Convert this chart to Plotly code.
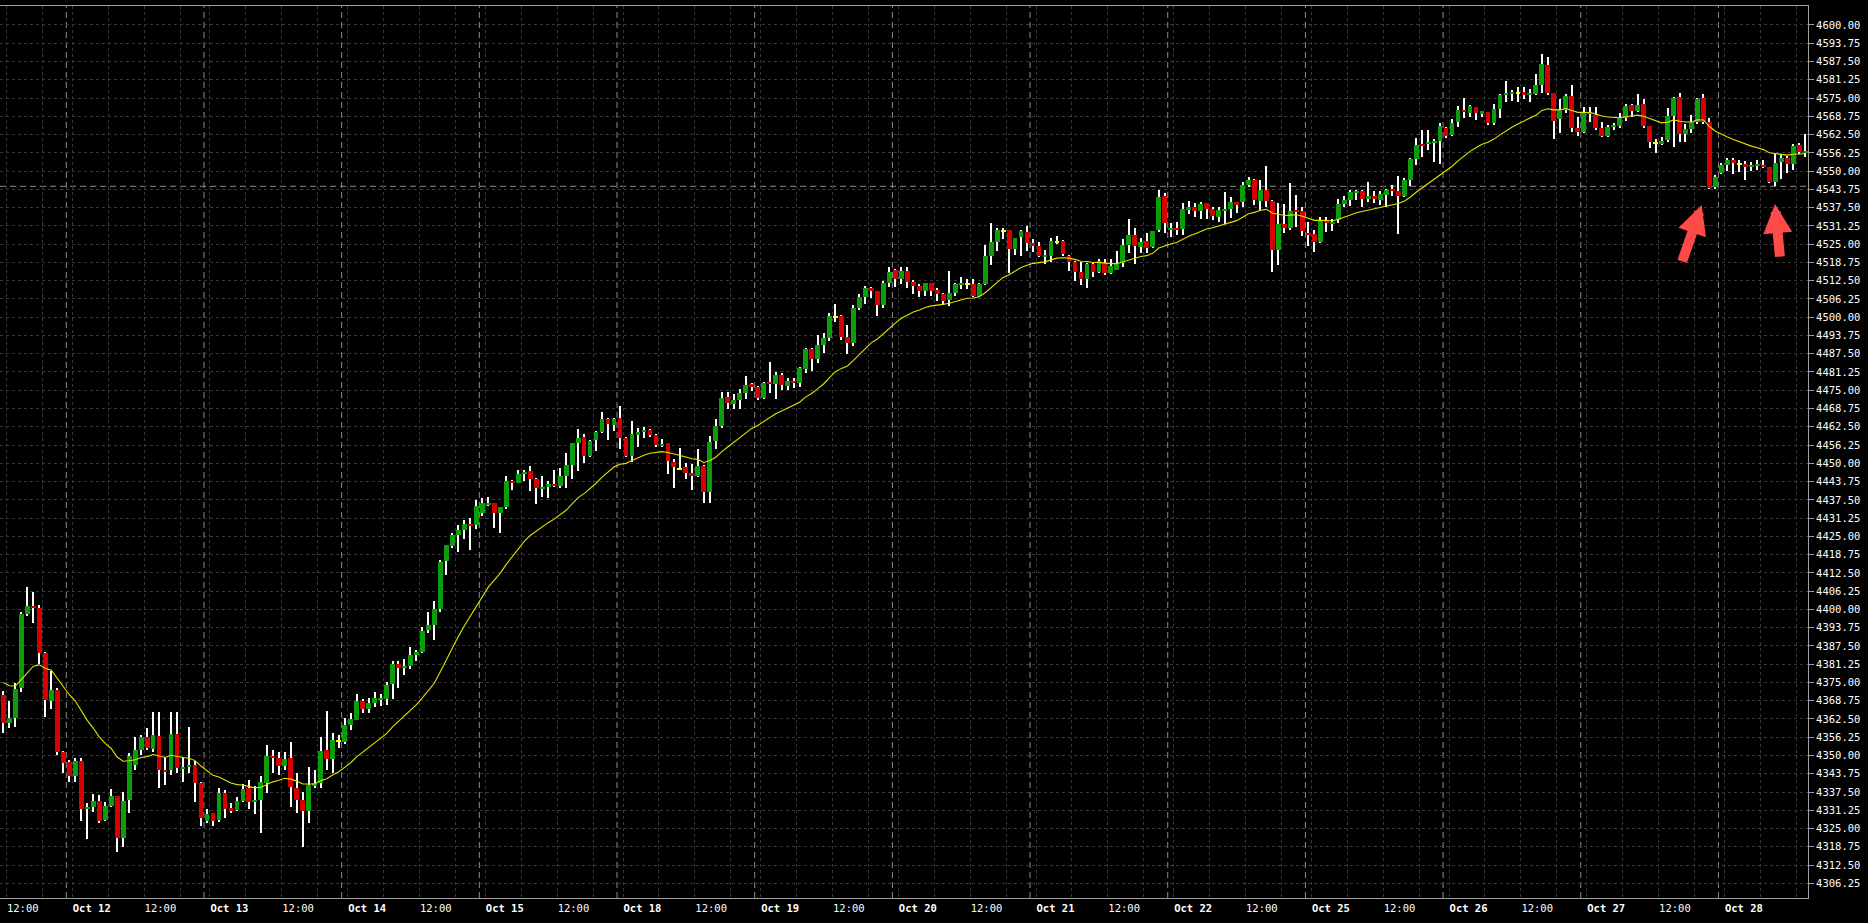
import plotly.graph_objects as go

# ---------------- data (hourly candles) ----------------
opens = [4370.7, 4361.0, 4362.9, 4373.2, 4398.4, 4401.1, 4400.6, 4385.2, 4368.8, 4372.4,
         4351.1, 4347.9, 4343.1, 4348.1, 4331.8, 4332.5, 4334.4, 4327.8, 4332.8, 4336.1,
         4321.9, 4334.8, 4346.7, 4351.9, 4356.2, 4352.2, 4356.7, 4345.0, 4345.0, 4357.4,
         4345.5, 4346.2, 4346.6, 4340.5, 4327.7, 4330.2, 4327.9, 4337.3, 4332.2, 4331.4,
         4334.5, 4338.8, 4334.2, 4334.9, 4340.7, 4349.8, 4349.0, 4346.5, 4349.0, 4339.0,
         4334.8, 4331.1, 4340.1, 4340.5, 4351.9, 4348.7, 4355.1, 4354.7, 4360.4, 4362.1,
         4368.6, 4365.8, 4367.8, 4369.4, 4369.4, 4374.3, 4381.3, 4379.8, 4380.5, 4384.5,
         4385.5, 4393.0, 4394.7, 4400.0, 4416.5, 4421.7, 4425.5, 4427.2, 4429.2, 4428.9,
         4433.1, 4436.1, 4436.3, 4433.1, 4434.9, 4444.0, 4443.4, 4446.4, 4447.3, 4444.6,
         4441.4, 4442.0, 4442.9, 4442.3, 4445.7, 4449.4, 4456.8, 4459.0, 4452.5, 4458.0,
         4460.7, 4465.2, 4463.2, 4465.5, 4458.7, 4452.6, 4459.8, 4460.8, 4461.4, 4459.7,
         4455.9, 4456.8, 4450.5, 4448.1, 4448.6, 4446.8, 4445.8, 4449.1, 4440.3, 4457.6,
         4462.8, 4472.6, 4470.4, 4471.7, 4473.9, 4477.2, 4476.0, 4472.5, 4477.8, 4477.2,
         4480.2, 4476.6, 4478.2, 4477.6, 4482.3, 4489.1, 4485.7, 4490.5, 4493.0, 4500.2,
         4500.4, 4493.3, 4491.1, 4503.3, 4507.0, 4510.1, 4508.8, 4504.2, 4511.8, 4516.2,
         4513.0, 4515.8, 4512.2, 4510.7, 4509.1, 4511.6, 4509.3, 4508.0, 4505.9, 4508.2,
         4511.2, 4511.4, 4511.4, 4507.3, 4511.4, 4521.0, 4525.9, 4529.6, 4529.9, 4523.2,
         4527.6, 4529.3, 4525.3, 4524.4, 4520.7, 4521.1, 4525.9, 4526.1, 4521.1, 4519.0,
         4515.6, 4513.0, 4518.2, 4515.6, 4518.7, 4515.2, 4516.2, 4518.4, 4524.7, 4528.1,
         4524.1, 4526.1, 4524.1, 4529.9, 4541.5, 4529.9, 4530.4, 4530.2, 4537.0, 4537.6,
         4536.4, 4539.0, 4537.0, 4534.4, 4536.5, 4537.0, 4539.3, 4539.3, 4545.3, 4547.0,
         4539.9, 4543.5, 4539.8, 4523.0, 4531.9, 4530.6, 4536.6, 4536.4, 4528.9, 4528.4,
         4525.6, 4533.0, 4532.1, 4533.3, 4538.7, 4540.1, 4542.6, 4543.2, 4540.5, 4541.6,
         4540.1, 4541.9, 4543.9, 4543.2, 4541.6, 4546.8, 4554.0, 4559.2, 4559.3, 4559.9,
         4560.3, 4564.9, 4562.4, 4566.7, 4570.9, 4570.0, 4571.8, 4570.0, 4570.1, 4566.6,
         4571.3, 4576.3, 4576.4, 4576.8, 4577.1, 4576.1, 4576.4, 4579.5, 4586.2, 4576.6,
         4567.7, 4570.9, 4575.7, 4564.9, 4563.5, 4569.8, 4569.2, 4564.9, 4562.0, 4565.2,
         4565.5, 4568.1, 4572.6, 4570.6, 4573.0, 4565.4, 4559.7, 4559.7, 4560.6, 4568.9,
         4575.2, 4562.6, 4564.3, 4566.9, 4575.1, 4566.9, 4544.4, 4549.2, 4552.1, 4553.8,
         4552.4, 4552.4, 4551.5, 4551.8, 4552.1, 4551.3, 4546.4, 4553.2, 4554.4, 4552.4,
         4558.9, 4556.3]

highs = [4372.2, 4368.6, 4374.9, 4399.0, 4407.8, 4406.0, 4401.5, 4385.5, 4379.0, 4373.0,
         4351.5, 4348.5, 4349.0, 4349.0, 4333.6, 4336.7, 4336.5, 4334.2, 4338.7, 4336.3,
         4337.6, 4350.7, 4356.4, 4357.0, 4359.3, 4364.8, 4364.8, 4349.6, 4364.8, 4364.8,
         4349.6, 4359.6, 4348.2, 4340.8, 4331.6, 4330.4, 4339.0, 4338.2, 4333.6, 4335.9,
         4340.1, 4341.7, 4339.5, 4343.1, 4353.6, 4351.9, 4351.2, 4351.2, 4354.7, 4343.9,
         4337.6, 4346.2, 4345.0, 4356.4, 4365.3, 4357.6, 4357.1, 4362.7, 4364.4, 4371.2,
         4369.5, 4369.7, 4371.8, 4371.2, 4375.2, 4382.4, 4382.4, 4383.0, 4387.3, 4386.0,
         4394.1, 4399.2, 4402.9, 4416.9, 4422.2, 4426.0, 4428.9, 4430.6, 4431.2, 4437.5,
         4438.0, 4438.6, 4436.5, 4435.2, 4445.7, 4444.2, 4447.7, 4447.7, 4449.1, 4444.8,
         4445.7, 4444.0, 4447.7, 4448.5, 4453.6, 4457.0, 4461.6, 4459.9, 4458.0, 4461.0,
         4467.6, 4465.4, 4465.4, 4469.6, 4458.9, 4464.5, 4462.2, 4462.4, 4461.6, 4459.9,
         4458.2, 4457.0, 4451.4, 4455.2, 4450.0, 4449.6, 4454.8, 4449.3, 4459.4, 4465.2,
         4474.4, 4474.5, 4473.7, 4475.3, 4479.9, 4477.4, 4476.3, 4477.9, 4484.5, 4481.4,
         4481.0, 4479.1, 4479.1, 4483.1, 4489.6, 4489.3, 4493.9, 4494.7, 4501.3, 4504.4,
         4500.7, 4497.4, 4504.2, 4508.0, 4510.7, 4510.4, 4509.1, 4512.4, 4517.3, 4516.4,
         4517.3, 4517.3, 4512.7, 4511.2, 4511.8, 4511.8, 4509.9, 4508.2, 4515.8, 4511.8,
         4513.6, 4513.1, 4513.0, 4511.8, 4524.7, 4532.4, 4530.4, 4530.4, 4530.0, 4527.2,
         4529.9, 4531.2, 4526.7, 4525.9, 4523.0, 4527.0, 4527.8, 4526.3, 4521.3, 4519.2,
         4519.0, 4518.7, 4518.4, 4519.8, 4519.8, 4519.8, 4522.8, 4526.8, 4533.6, 4530.4,
         4527.0, 4528.9, 4529.6, 4543.5, 4542.4, 4532.1, 4532.7, 4539.0, 4539.8, 4539.0,
         4539.5, 4539.1, 4537.8, 4537.8, 4542.7, 4541.3, 4539.4, 4546.4, 4548.1, 4547.2,
         4547.0, 4551.8, 4540.0, 4539.0, 4538.7, 4545.8, 4541.8, 4537.8, 4532.7, 4529.9,
         4534.2, 4534.4, 4533.5, 4540.3, 4541.6, 4543.5, 4543.5, 4543.4, 4546.2, 4543.3,
         4543.3, 4544.0, 4545.3, 4548.3, 4547.8, 4554.6, 4561.2, 4564.1, 4564.1, 4561.0,
         4566.4, 4565.1, 4567.7, 4572.3, 4574.9, 4572.5, 4572.0, 4570.5, 4570.3, 4573.0,
         4576.3, 4580.8, 4577.8, 4578.7, 4578.7, 4578.0, 4583.2, 4590.1, 4589.0, 4576.8,
         4574.6, 4576.4, 4579.5, 4568.6, 4572.1, 4572.1, 4572.1, 4566.9, 4565.8, 4566.6,
         4570.0, 4573.0, 4573.0, 4576.3, 4574.7, 4565.6, 4560.9, 4561.8, 4571.5, 4575.5,
         4576.6, 4566.1, 4569.2, 4575.1, 4576.4, 4568.1, 4548.7, 4552.7, 4554.4, 4554.4,
         4553.8, 4553.6, 4553.2, 4553.8, 4553.8, 4551.5, 4555.8, 4555.5, 4555.0, 4559.2,
         4559.5, 4562.7]

lows = [4357.6, 4359.3, 4359.9, 4371.8, 4397.7, 4395.4, 4381.3, 4363.3, 4366.0, 4350.0,
        4343.9, 4341.0, 4341.0, 4327.7, 4321.3, 4330.8, 4326.8, 4327.6, 4332.5, 4317.1,
        4318.6, 4330.4, 4345.0, 4350.0, 4352.0, 4351.3, 4338.8, 4339.9, 4343.3, 4344.0,
        4341.0, 4344.0, 4334.2, 4325.9, 4326.8, 4325.9, 4327.4, 4328.5, 4330.2, 4331.1,
        4334.2, 4331.6, 4330.1, 4323.5, 4337.3, 4343.9, 4343.3, 4345.0, 4332.5, 4330.4,
        4318.6, 4326.8, 4338.8, 4338.8, 4345.0, 4343.9, 4352.5, 4353.9, 4358.7, 4362.1,
        4364.4, 4364.4, 4366.6, 4367.0, 4367.2, 4369.4, 4373.0, 4377.5, 4379.5, 4382.5,
        4385.0, 4391.8, 4389.5, 4399.2, 4411.8, 4420.9, 4419.8, 4424.0, 4420.3, 4427.4,
        4432.0, 4435.4, 4427.8, 4426.0, 4434.2, 4440.9, 4443.1, 4444.0, 4440.6, 4436.1,
        4438.6, 4438.1, 4442.0, 4441.7, 4441.4, 4444.6, 4447.5, 4450.2, 4452.3, 4454.2,
        4460.2, 4458.0, 4461.2, 4455.0, 4452.3, 4450.6, 4455.7, 4458.8, 4459.1, 4455.7,
        4455.7, 4446.2, 4441.7, 4447.7, 4444.5, 4440.9, 4445.4, 4436.3, 4436.5, 4455.0,
        4462.2, 4468.6, 4468.6, 4468.6, 4471.9, 4474.8, 4471.5, 4472.0, 4474.2, 4472.1,
        4475.1, 4475.1, 4475.9, 4476.2, 4480.8, 4481.7, 4484.2, 4487.9, 4491.9, 4498.2,
        4492.2, 4487.3, 4490.2, 4502.5, 4504.4, 4506.5, 4500.5, 4503.3, 4510.5, 4510.5,
        4511.4, 4509.9, 4508.0, 4507.0, 4507.3, 4507.3, 4505.6, 4504.2, 4504.0, 4507.3,
        4509.5, 4509.5, 4507.0, 4507.0, 4511.0, 4517.9, 4522.7, 4526.6, 4515.0, 4521.3,
        4521.1, 4522.7, 4522.4, 4520.5, 4518.1, 4519.0, 4525.1, 4521.0, 4515.9, 4512.5,
        4511.0, 4510.1, 4513.7, 4515.0, 4514.4, 4514.8, 4516.0, 4517.3, 4522.1, 4518.1,
        4522.1, 4522.1, 4523.6, 4529.3, 4528.9, 4527.3, 4528.1, 4528.1, 4535.3, 4534.4,
        4533.7, 4533.5, 4533.3, 4532.7, 4531.9, 4533.8, 4535.8, 4537.8, 4544.7, 4538.4,
        4536.7, 4537.8, 4515.6, 4517.9, 4528.7, 4529.9, 4531.0, 4527.8, 4524.4, 4522.4,
        4525.5, 4529.3, 4529.5, 4532.4, 4537.8, 4538.0, 4540.1, 4537.8, 4539.5, 4539.0,
        4538.4, 4537.8, 4541.5, 4528.5, 4541.3, 4544.9, 4552.1, 4554.9, 4557.2, 4553.2,
        4552.4, 4561.4, 4562.0, 4565.2, 4568.3, 4568.4, 4567.5, 4568.4, 4565.8, 4565.8,
        4568.3, 4573.8, 4574.0, 4573.8, 4574.6, 4573.8, 4576.1, 4576.6, 4576.1, 4560.9,
        4563.2, 4569.8, 4563.5, 4562.0, 4563.2, 4566.9, 4564.1, 4561.8, 4561.8, 4564.1,
        4564.6, 4567.0, 4568.4, 4570.3, 4564.6, 4557.8, 4556.3, 4559.0, 4560.1, 4558.1,
        4560.1, 4560.1, 4563.2, 4566.0, 4566.0, 4543.8, 4543.8, 4549.0, 4550.2, 4549.0,
        4549.8, 4546.9, 4550.0, 4550.4, 4550.9, 4545.8, 4544.9, 4547.3, 4549.2, 4550.4,
        4555.9, 4554.7]

closes = [4361.0, 4362.9, 4372.7, 4398.4, 4401.1, 4400.6, 4385.2, 4369.0, 4372.4, 4351.1,
          4347.3, 4343.1, 4348.1, 4331.8, 4332.5, 4334.4, 4327.7, 4332.8, 4336.1, 4321.6,
          4334.4, 4349.9, 4351.9, 4356.4, 4352.4, 4357.0, 4345.0, 4344.5, 4357.4, 4345.6,
          4346.2, 4346.7, 4340.5, 4328.7, 4330.0, 4327.7, 4337.3, 4331.8, 4331.1, 4334.5,
          4338.7, 4334.2, 4334.9, 4340.9, 4349.8, 4349.0, 4346.5, 4348.8, 4339.1, 4334.8,
          4331.1, 4339.9, 4340.3, 4351.7, 4348.7, 4355.3, 4355.1, 4360.4, 4362.5, 4368.6,
          4365.8, 4367.8, 4369.8, 4369.6, 4374.1, 4381.3, 4379.8, 4380.5, 4384.5, 4385.5,
          4392.6, 4394.7, 4400.0, 4416.3, 4422.0, 4425.5, 4427.2, 4429.2, 4428.5, 4435.4,
          4436.3, 4436.3, 4433.1, 4434.9, 4444.0, 4443.2, 4446.4, 4447.0, 4444.6, 4441.7,
          4441.9, 4442.9, 4442.3, 4445.7, 4449.4, 4456.8, 4458.7, 4452.5, 4457.6, 4460.7,
          4465.2, 4463.6, 4465.2, 4458.8, 4452.6, 4460.0, 4460.7, 4461.4, 4459.7, 4456.3,
          4456.6, 4450.8, 4448.9, 4448.1, 4446.8, 4445.8, 4449.1, 4440.3, 4457.3, 4462.8,
          4472.4, 4470.5, 4471.7, 4473.9, 4476.8, 4476.2, 4472.5, 4477.4, 4477.2, 4480.2,
          4476.8, 4478.2, 4477.6, 4482.5, 4489.1, 4485.7, 4490.5, 4493.0, 4500.4, 4500.2,
          4493.3, 4491.1, 4503.3, 4507.0, 4510.1, 4508.8, 4504.2, 4511.6, 4515.6, 4513.0,
          4515.8, 4512.2, 4510.7, 4508.8, 4511.6, 4509.0, 4508.0, 4505.7, 4508.2, 4511.3,
          4511.5, 4511.4, 4507.3, 4511.4, 4521.0, 4525.9, 4529.9, 4529.6, 4523.2, 4527.0,
          4529.5, 4525.3, 4524.4, 4521.1, 4521.3, 4526.1, 4525.9, 4521.6, 4519.0, 4515.6,
          4513.1, 4518.2, 4515.6, 4519.2, 4515.2, 4517.5, 4518.1, 4524.7, 4528.1, 4524.4,
          4525.9, 4523.8, 4529.5, 4541.0, 4532.4, 4530.4, 4529.9, 4537.0, 4537.5, 4536.4,
          4538.8, 4536.9, 4534.6, 4536.7, 4536.9, 4539.3, 4538.7, 4545.3, 4547.0, 4540.1,
          4543.5, 4539.8, 4523.0, 4531.9, 4530.6, 4536.4, 4536.1, 4529.5, 4528.4, 4525.6,
          4533.0, 4532.4, 4532.5, 4538.7, 4540.1, 4542.7, 4543.2, 4540.5, 4541.6, 4540.5,
          4542.2, 4543.5, 4543.2, 4541.6, 4547.0, 4554.0, 4558.9, 4558.6, 4559.9, 4560.3,
          4565.4, 4562.0, 4566.4, 4570.9, 4570.3, 4572.3, 4569.8, 4570.3, 4566.6, 4571.3,
          4576.1, 4576.7, 4577.1, 4576.8, 4576.1, 4576.6, 4579.5, 4586.7, 4576.8, 4567.3,
          4570.9, 4575.7, 4564.9, 4563.5, 4570.0, 4570.0, 4564.9, 4562.0, 4565.2, 4565.8,
          4568.1, 4572.3, 4570.4, 4572.6, 4565.4, 4560.1, 4559.7, 4560.1, 4568.9, 4574.9,
          4562.6, 4564.3, 4566.9, 4574.7, 4566.9, 4544.1, 4548.1, 4552.1, 4553.8, 4552.7,
          4552.4, 4551.5, 4552.1, 4552.4, 4551.5, 4546.1, 4552.7, 4554.4, 4552.4, 4558.6,
          4556.7, 4556.9]

ma_start = 4375.0      # value of the yellow average at the first visible bar
ma_period = 20
level_line = 4544.8    # dashed horizontal level

price_ticks_low = 4306.25
price_ticks_high = 4600.0
price_tick_step = 6.25

day_labels = ["Oct 11", "Oct 12", "Oct 13", "Oct 14", "Oct 15", "Oct 18", "Oct 19",
              "Oct 20", "Oct 21", "Oct 22", "Oct 25", "Oct 26", "Oct 27", "Oct 28"]
day_first_bar = [-12, 11, 34, 57, 80, 103, 126, 149, 172, 195, 218, 241, 264, 287]
noon_label = "12:00"

# ---------------- derived ----------------
n = len(closes)
xs = list(range(n))

alpha = 2.0 / (ma_period + 1)
ma = []
prev = ma_start
for i, c in enumerate(closes):
    if i > 0:
        prev = prev + alpha * (c - prev)
    ma.append(prev)

GREEN = "#0B9E0B"
RED = "#D70000"
DOJI = "#FFFF00"
body_min = 0.6

body_base, body_h, body_col = [], [], []
for o, c in zip(opens, closes):
    h = abs(c - o)
    mid = (o + c) / 2.0
    hh = max(h, body_min)
    body_base.append(mid - hh / 2.0)
    body_h.append(hh)
    body_col.append(DOJI if o == c else (GREEN if c > o else RED))

wick_h = [h - l for h, l in zip(highs, lows)]

fig = go.Figure()
fig.add_trace(go.Bar(x=xs, y=wick_h, base=lows, width=0.18,
                     marker=dict(color="#FFFFFF", line=dict(width=0)),
                     hoverinfo="skip", showlegend=False))
fig.add_trace(go.Bar(x=xs, y=body_h, base=body_base, width=0.8,
                     marker=dict(color=body_col, line=dict(width=0)),
                     hoverinfo="skip", showlegend=False))
fig.add_trace(go.Scatter(x=xs, y=ma, mode="lines",
                         line=dict(color="#E2E200", width=1.1),
                         hoverinfo="skip", showlegend=False))

# ---------------- ticks ----------------
tickvals, ticktext, minor_vals = [], [], []
for lab, s in zip(day_labels, day_first_bar):
    if s >= 0:
        tickvals.append(s + 0.5)
        ticktext.append("<b>" + lab + "</b>")
    noon = s + 12.5
    if lab != day_labels[-1] and noon >= 0:
        tickvals.append(noon)
        ticktext.append(noon_label)
    elif noon >= 0:
        minor_vals.append(noon)
    for off in (6.5, 18.5):
        if 0 <= s + off < n:
            minor_vals.append(s + off)

y_ticks = []
v = price_ticks_low
while v <= price_ticks_high + 1e-9:
    y_ticks.append(round(v, 2))
    v += price_tick_step
y_text = ["%.2f" % t for t in y_ticks]

GRID = "#383838"
SEP = "#8C8C8C"
AXIS = "#A0A0A0"

shapes = []
for s in day_first_bar:
    if s > 0:
        shapes.append(dict(type="line", xref="x", yref="y domain", x0=s - 0.5, x1=s - 0.5,
                           y0=0, y1=1, line=dict(color=SEP, width=1, dash="6px,4px"),
                           layer="below"))
shapes.append(dict(type="line", xref="x domain", yref="y", x0=0, x1=1,
                   y0=level_line, y1=level_line,
                   line=dict(color=SEP, width=1, dash="6px,4px"), layer="below"))

arrow_style = dict(xref="x", yref="y", axref="pixel", ayref="pixel", text="",
                   showarrow=True, arrowhead=2, arrowsize=0.58, arrowwidth=10,
                   arrowcolor="#FF4A4A")
annotations = [
    dict(x=283.7, y=4538.4, ax=-20, ay=58, **arrow_style),
    dict(x=295.95, y=4538.7, ax=5, ay=54, **arrow_style),
]

fig.update_layout(
    width=1868, height=923,
    margin=dict(l=0, r=60, t=6, b=25, pad=0),
    paper_bgcolor="#000000", plot_bgcolor="#000000",
    barmode="overlay", bargap=0,
    showlegend=False, hovermode=False,
    shapes=shapes, annotations=annotations,
    font=dict(family="DejaVu Sans Mono", color="#FFFFFF", size=10.5),
    xaxis=dict(range=[-0.576, 301.46], tickmode="array", tickvals=tickvals,
               ticktext=ticktext, ticklabelposition="outside right",
               tickfont=dict(family="DejaVu Sans Mono", size=10.5, color="#FFFFFF"),
               ticks="", showgrid=True, gridcolor=GRID, griddash="3px,3px", gridwidth=1,
               minor=dict(tickmode="array", tickvals=minor_vals, showgrid=True,
                          gridcolor=GRID, griddash="3px,3px", gridwidth=1, ticks=""),
               showline=True, linecolor=AXIS, linewidth=1, mirror=True,
               zeroline=False, fixedrange=True),
    yaxis=dict(range=[4301.23, 4606.5], side="right", tickmode="array",
               tickvals=y_ticks, ticktext=y_text,
               tickfont=dict(family="DejaVu Sans Mono", size=10.5, color="#FFFFFF"),
               ticks="outside", ticklen=5, tickcolor=AXIS,
               showgrid=True, gridcolor=GRID, griddash="3px,3px", gridwidth=1,
               showline=True, linecolor=AXIS, linewidth=1,
               zeroline=False, fixedrange=True),
)

fig.write_html("out.html", config={"displayModeBar": False},
               post_script="document.body.style.margin='0px';document.body.style.overflow='hidden';")
